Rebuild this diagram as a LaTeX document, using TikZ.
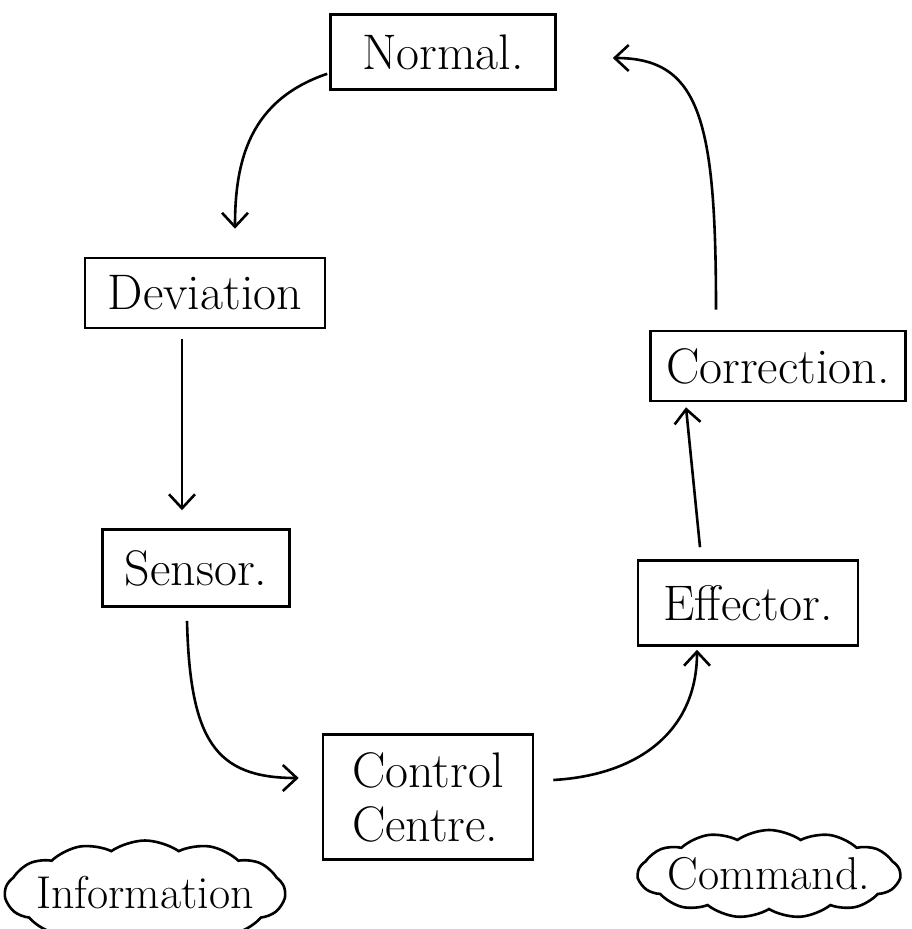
\documentclass[tikz,border=0pt]{standalone}
\usepackage{fontspec}
\usetikzlibrary{arrows.meta,calc,shapes.symbols}
\begin{document}
\begin{tikzpicture}[x=1pt,y=-1pt,
  box/.style={draw,line width=2.6pt,rectangle,inner sep=0pt,font=\fontsize{50}{54}\selectfont},
  bubble/.style={draw,line width=2.6pt,cloud,cloud puffs=13,cloud puff arc=70,cloud ignores aspect,inner sep=-10pt,font=\fontsize{46}{50}\selectfont},
  flow/.style={line width=2.6pt,-{Straight Barb[length=14pt,width=26pt,line width=2.6pt]}}]
\useasboundingbox (0,0) rectangle (911,929);
\fill[white] (0,0) rectangle (911,929);
\node[box,minimum width=225pt,minimum height=75pt] (normal) at (443,52) {Normal.};
\node[box,minimum width=240pt,minimum height=70pt] (deviation) at (205,293) {Deviation};
\node[box,minimum width=255pt,minimum height=70pt] (correction) at (778,366) {Correction.};
\node[box,minimum width=187pt,minimum height=77pt] (sensor) at (196,568) {Sensor.};
\node[box,minimum width=220pt,minimum height=85pt] (effector) at (748,603) {Effector.};
\node[box,minimum width=210pt,minimum height=125pt,align=left] (control) at (428,797) {Control\\Centre.};
\node[bubble,minimum width=280pt,minimum height=105pt] (info) at (145,893) {Information};
\node[bubble,minimum width=262pt,minimum height=88pt] (command) at (769,874) {Command.};
\draw[flow] ($(normal.south west)+(-2,-17)$) .. controls (250,100) and (235,160) .. ($(deviation.north)+(30,-28)$);
\draw[flow] ($(deviation.south)+(-23,10)$) -- ($(sensor.north)+(-14,-18)$);
\draw[flow] ($(sensor.south)+(-9,13)$) .. controls (190,740) and (215,778) .. ($(control.west)+(-23,-19)$);
\draw[flow] ($(control.east)+(19,-17)$) .. controls (640,775) and (697,730) .. ($(effector.south)+(-51,3)$);
\draw[flow] ($(effector.north)+(-48,-12)$) -- ($(correction.south)+(-92,5)$);
\draw[flow] ($(correction.north)+(-62,-20)$) .. controls (716,120) and (700,58) .. ($(normal.east)+(56,6)$);
\end{tikzpicture}
\end{document}
